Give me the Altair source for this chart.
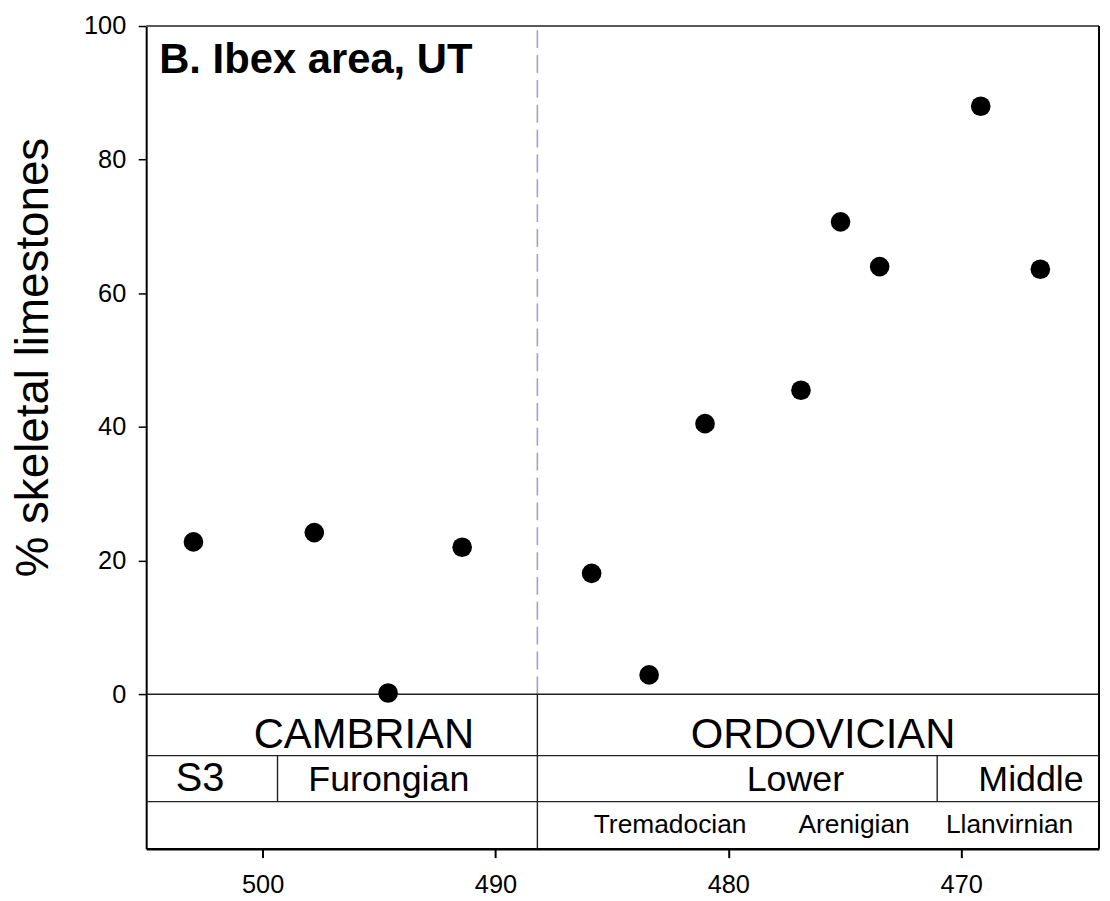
import altair as alt
import pandas as pd

# ---- data ----
ages = [502.97, 497.78, 494.61, 491.43, 485.87, 483.40, 481.00, 476.88, 475.18, 473.50, 469.16, 466.60]
pct_skeletal = [22.8, 24.2, 0.2, 22.0, 18.1, 2.9, 40.5, 45.5, 70.7, 64.0, 88.0, 63.6]

x_ticks = [500, 490, 480, 470]
y_ticks = [0, 20, 40, 60, 80, 100]

age_min, age_max = 464.08, 505.0
y_bottom, y_top = -23.1, 100.0

# stratigraphic table
cambro_ordovician = 488.2
s3_furongian = 499.36
lower_middle = 471.03
row_lines = [0.0, -9.18, -16.07]

strat_labels = ["CAMBRIAN", "ORDOVICIAN", "S3", "Furongian", "Lower", "Middle",
                "Tremadocian", "Arenigian", "Llanvirnian"]
strat_label_age = [495.65, 475.93, 502.69, 494.58, 477.12, 467.00, 482.50, 474.60, 467.92]
strat_label_row = [-8.08, -8.08, -14.4, -14.4, -14.4, -14.4, -20.8, -20.8, -20.8]
strat_font = [42, 42, 40, 36, 36, 36, 26.5, 26.5, 26.5]

panel_title = "B. Ibex area, UT"
panel_title_age, panel_title_y = 504.44, 93.0

FONT = "Liberation Sans, Arial, Helvetica, sans-serif"

xscale = alt.Scale(domain=[age_min, age_max], reverse=True, nice=False, zero=False)
yscale = alt.Scale(domain=[y_bottom, y_top], nice=False, zero=False)

pts = pd.DataFrame({"age": ages, "pct": pct_skeletal})

base_x = alt.X("age:Q", scale=xscale,
               axis=alt.Axis(values=x_ticks, format="d", title=None, grid=False,
                             domainColor="black", domainWidth=2.5, tickColor="black",
                             tickWidth=2, tickSize=9, labelFontSize=25.5, labelFont=FONT,
                             labelColor="black", labelPadding=15, labelFlush=False))
base_y = alt.Y("pct:Q", scale=yscale,
               axis=alt.Axis(values=y_ticks, title="% skeletal limestones", grid=False,
                             domainColor="black", domainWidth=2, tickColor="black",
                             tickWidth=1.5, tickSize=8, labelFontSize=25.5, labelFont=FONT,
                             labelColor="black", labelPadding=12.5, labelFlush=False,
                             titleFont=FONT, titleFontSize=46, titleFontWeight="normal",
                             titleColor="black", titleAngle=270, titleX=-99, titleY=333,
                             titleAlign="center", titleBaseline="alphabetic"))

points = alt.Chart(pts).mark_circle(size=390, color="black", opacity=1).encode(x=base_x, y=base_y)

# table horizontal lines
hl = pd.DataFrame({"y": row_lines, "x": [age_max] * 3, "x2": [age_min] * 3})
hlines = alt.Chart(hl).mark_rule(color="#222222", strokeWidth=1.4).encode(
    x=alt.X("x:Q", scale=xscale), x2="x2:Q", y=alt.Y("y:Q", scale=yscale))

vl = pd.DataFrame({"x": [cambro_ordovician, s3_furongian, lower_middle],
                   "y": [y_bottom, row_lines[2], row_lines[2]],
                   "y2": [row_lines[0], row_lines[1], row_lines[1]]})
vlines = alt.Chart(vl).mark_rule(color="#222222", strokeWidth=1.4).encode(
    x=alt.X("x:Q", scale=xscale), y=alt.Y("y:Q", scale=yscale), y2="y2:Q")

dash = pd.DataFrame({"x": [cambro_ordovician], "y": [0.0], "y2": [y_top]})
dashed = alt.Chart(dash).mark_rule(color="#a0a2c6", strokeWidth=1.6, strokeDash=[18, 7]).encode(
    x=alt.X("x:Q", scale=xscale), y=alt.Y("y:Q", scale=yscale), y2="y2:Q")

top = pd.DataFrame({"y": [y_top], "x": [age_max], "x2": [age_min]})
top_border = alt.Chart(top).mark_rule(color="#5a5a5a", strokeWidth=2).encode(
    x=alt.X("x:Q", scale=xscale), x2="x2:Q", y=alt.Y("y:Q", scale=yscale))

right = pd.DataFrame({"x": [age_min], "y": [y_bottom], "y2": [y_top]})
right_border = alt.Chart(right).mark_rule(color="black", strokeWidth=2).encode(
    x=alt.X("x:Q", scale=xscale), y=alt.Y("y:Q", scale=yscale), y2="y2:Q")

lab = pd.DataFrame({"t": strat_labels, "x": strat_label_age, "y": strat_label_row, "fs": strat_font})
labels = alt.Chart(lab).mark_text(font=FONT, color="black", align="center",
                                  baseline="alphabetic").encode(
    x=alt.X("x:Q", scale=xscale), y=alt.Y("y:Q", scale=yscale),
    text="t:N", size=alt.Size("fs:Q", scale=None, legend=None))

ttl = pd.DataFrame({"t": [panel_title], "x": [panel_title_age], "y": [panel_title_y]})
title_txt = alt.Chart(ttl).mark_text(font=FONT, fontSize=42, fontWeight="bold", color="black",
                                     align="left", baseline="alphabetic").encode(
    x=alt.X("x:Q", scale=xscale), y=alt.Y("y:Q", scale=yscale), text="t:N")

chart = alt.layer(dashed, hlines, vlines, top_border, right_border, labels, title_txt, points).properties(
    width=958.5, height=827.5,
    autosize=alt.AutoSizeParams(type="none"),
    padding={"left": 139, "top": 15.5, "right": 3, "bottom": 47},
).configure_view(stroke=None).configure(background="white")

chart.save("out.html", embed_options={"renderer": "svg", "actions": False})
